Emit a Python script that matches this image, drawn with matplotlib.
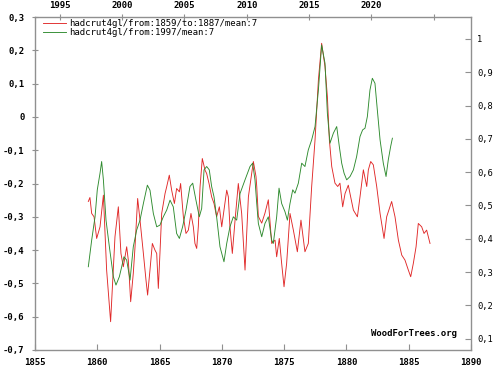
import matplotlib
matplotlib.use("Agg")
import matplotlib.pyplot as plt

# ---------------- data ----------------
# Red: hadcrut4gl from 1859 to 1887, 7-month mean (bottom / left axes)
red_years = [1859.28, 1859.41, 1859.55, 1859.74, 1859.95, 1860.22, 1860.49, 1860.75, 1861.07, 1861.42,
             1861.69, 1861.90, 1862.09, 1862.36, 1862.49, 1862.68, 1862.89, 1863.03, 1863.24, 1863.43,
             1863.70, 1863.91, 1864.04, 1864.23, 1864.42, 1864.63, 1864.77, 1864.90, 1865.03, 1865.17,
             1865.44, 1865.57, 1865.78, 1865.97, 1866.19, 1866.37, 1866.59, 1866.69, 1866.91, 1867.12,
             1867.31, 1867.52, 1867.71, 1867.84, 1867.98, 1868.11, 1868.25, 1868.43, 1868.65, 1868.78,
             1868.97, 1869.18, 1869.37, 1869.58, 1869.80, 1869.99, 1870.17, 1870.39, 1870.52, 1870.65,
             1870.84, 1871.06, 1871.32, 1871.59, 1871.86, 1872.13, 1872.53, 1872.74, 1872.80, 1872.93,
             1873.20, 1873.46, 1873.73, 1874.00, 1874.27, 1874.40, 1874.61, 1874.80, 1874.99, 1875.20,
             1875.47, 1875.74, 1876.06, 1876.35, 1876.67, 1876.94, 1877.21, 1877.48, 1877.75, 1878.01,
             1878.28, 1878.47, 1878.63, 1878.82, 1879.08, 1879.30, 1879.48, 1879.70, 1879.89, 1880.15,
             1880.34, 1880.56, 1880.88, 1881.09, 1881.36, 1881.63, 1881.76, 1881.95, 1882.16, 1882.43,
             1882.70, 1883.02, 1883.23, 1883.63, 1883.90, 1884.17, 1884.44, 1884.70, 1884.97, 1885.16,
             1885.37, 1885.59, 1885.77, 1886.04, 1886.23, 1886.44, 1886.71]
red_values = [-0.254, -0.242, -0.290, -0.300, -0.365, -0.330, -0.235, -0.460, -0.615, -0.360,
              -0.270, -0.410, -0.450, -0.390, -0.430, -0.555, -0.470, -0.390, -0.245, -0.310,
              -0.410, -0.490, -0.535, -0.460, -0.380, -0.400, -0.410, -0.515, -0.410, -0.290,
              -0.230, -0.210, -0.175, -0.220, -0.260, -0.215, -0.225, -0.200, -0.300, -0.350,
              -0.340, -0.290, -0.330, -0.380, -0.395, -0.330, -0.210, -0.125, -0.160, -0.170,
              -0.200, -0.240, -0.260, -0.300, -0.270, -0.330, -0.280, -0.220, -0.240, -0.330,
              -0.410, -0.310, -0.200, -0.290, -0.460, -0.240, -0.134, -0.179, -0.209, -0.299,
              -0.319, -0.289, -0.249, -0.380, -0.370, -0.420, -0.365, -0.440, -0.510, -0.440,
              -0.290, -0.340, -0.405, -0.310, -0.405, -0.380, -0.209, -0.069, 0.111, 0.221,
              0.151, 0.061, -0.069, -0.149, -0.199, -0.209, -0.199, -0.270, -0.230, -0.205,
              -0.240, -0.280, -0.300, -0.240, -0.159, -0.209, -0.159, -0.134, -0.144, -0.209,
              -0.290, -0.365, -0.300, -0.254, -0.300, -0.370, -0.415, -0.430, -0.460, -0.480,
              -0.440, -0.390, -0.320, -0.330, -0.350, -0.340, -0.380]

# Green: hadcrut4gl from 1997, 7-month mean (top / right axes)
green_years = [1997.28, 1997.55, 1997.82, 1998.00, 1998.22, 1998.35, 1998.49, 1998.70, 1998.97, 1999.29,
               1999.50, 1999.77, 1999.96, 2000.14, 2000.36, 2000.63, 2000.89, 2001.16, 2001.43, 2001.70,
               2002.02, 2002.23, 2002.50, 2002.77, 2003.03, 2003.30, 2003.57, 2003.84, 2004.10, 2004.37,
               2004.59, 2004.85, 2005.12, 2005.44, 2005.66, 2005.92, 2006.19, 2006.38, 2006.57, 2006.78,
               2006.99, 2007.18, 2007.37, 2007.58, 2007.85, 2008.17, 2008.39, 2008.65, 2008.92, 2009.19,
               2009.46, 2009.86, 2010.26, 2010.47, 2010.66, 2010.80, 2010.93, 2011.20, 2011.46, 2011.73,
               2012.00, 2012.13, 2012.40, 2012.59, 2012.80, 2013.07, 2013.26, 2013.47, 2013.69, 2013.87,
               2014.14, 2014.41, 2014.67, 2014.94, 2015.21, 2015.48, 2015.75, 2016.01, 2016.28, 2016.47,
               2016.68, 2016.95, 2017.22, 2017.43, 2017.62, 2017.81, 2018.02, 2018.29, 2018.56, 2018.82,
               2019.09, 2019.30, 2019.49, 2019.68, 2019.89, 2020.08, 2020.29, 2020.48, 2020.70, 2020.96,
               2021.18, 2021.36, 2021.55, 2021.69]
green_values = [0.316, 0.396, 0.466, 0.547, 0.597, 0.632, 0.577, 0.456, 0.376, 0.286,
                0.261, 0.286, 0.316, 0.346, 0.336, 0.276, 0.376, 0.426, 0.456, 0.506,
                0.561, 0.546, 0.476, 0.436, 0.441, 0.466, 0.486, 0.516, 0.496, 0.416,
                0.401, 0.436, 0.486, 0.557, 0.567, 0.516, 0.466, 0.491, 0.607, 0.617,
                0.607, 0.557, 0.526, 0.466, 0.376, 0.331, 0.386, 0.436, 0.466, 0.456,
                0.536, 0.577, 0.617, 0.627, 0.577, 0.506, 0.446, 0.406, 0.446, 0.466,
                0.396, 0.386, 0.466, 0.552, 0.506, 0.481, 0.456, 0.506, 0.547, 0.537,
                0.567, 0.627, 0.617, 0.667, 0.697, 0.737, 0.847, 0.982, 0.927, 0.777,
                0.687, 0.717, 0.737, 0.677, 0.627, 0.597, 0.577, 0.587, 0.607, 0.647,
                0.707, 0.727, 0.732, 0.767, 0.847, 0.882, 0.867, 0.787, 0.697, 0.627,
                0.587, 0.637, 0.677, 0.702]

red_label = "hadcrut4gl/from:1859/to:1887/mean:7"
green_label = "hadcrut4gl/from:1997/mean:7"

bottom_ticks = [1855, 1860, 1865, 1870, 1875, 1880, 1885, 1890]
bottom_labels = ["1855", "1860", "1865", "1870", "1875", "1880", "1885", "1890"]
top_ticks = [1995, 2000, 2005, 2010, 2015, 2020, 2025]
top_labels = ["1995", "2000", "2005", "2010", "2015", "2020", ""]
left_ticks = [0.3, 0.2, 0.1, 0.0, -0.1, -0.2, -0.3, -0.4, -0.5, -0.6, -0.7]
left_labels = ["0,3", "0,2", "0,1", "0", "-0,1", "-0,2", "-0,3", "-0,4", "-0,5", "-0,6", "-0,7"]
right_ticks = [1.0, 0.9, 0.8, 0.7, 0.6, 0.5, 0.4, 0.3, 0.2, 0.1]
right_labels = ["1", "0,9", "0,8", "0,7", "0,6", "0,5", "0,4", "0,3", "0,2", "0,1"]

# ---------------- styling ----------------
RED = "#e02828"
GREEN = "#2e8b2e"
SPINE = "#909090"
MONO = "DejaVu Sans Mono"
TFS = 6.5

fig = plt.figure(figsize=(4.96, 3.71), dpi=100)
fig.patch.set_facecolor("white")
pos = [35 / 496, 21 / 371, 436 / 496, 333 / 371]
ax = fig.add_axes(pos)
ax2 = fig.add_axes(pos, frameon=False)

l1, = ax.plot(red_years, red_values, color=RED, lw=0.65, label=red_label)
l2, = ax2.plot(green_years, green_values, color=GREEN, lw=0.65, label=green_label)

ax.set_xlim(1855, 1890)
ax.set_ylim(-0.7, 0.3)
ax2.set_xlim(1993, 2028)
ax2.set_ylim(0.066, 1.066)

for s in ax.spines.values():
    s.set_color(SPINE)
    s.set_linewidth(1.0)

ax.set_xticks(bottom_ticks)
ax.set_xticklabels(bottom_labels, family=MONO, fontweight="bold", fontsize=TFS)
ax.set_yticks(left_ticks)
ax.set_yticklabels(left_labels, family=MONO, fontweight="bold", fontsize=TFS)
ax.tick_params(axis="x", direction="in", length=4, color=SPINE, pad=6)
ax.tick_params(axis="y", direction="inout", length=5, color=SPINE, pad=5)

ax2.xaxis.tick_top()
ax2.yaxis.tick_right()
ax2.set_xticks(top_ticks)
ax2.set_xticklabels(top_labels, family=MONO, fontweight="bold", fontsize=TFS)
ax2.set_yticks(right_ticks)
ax2.set_yticklabels(right_labels, family=MONO, fontsize=6.3)
ax2.tick_params(axis="x", direction="inout", length=5, color=SPINE, pad=2.5)
ax2.tick_params(axis="y", direction="in", length=4, color=SPINE, pad=4.5)

leg = ax.legend(handles=[l1, l2], loc="upper left", bbox_to_anchor=(0.018, 0.995),
                frameon=False, prop={"family": MONO, "size": 6.5},
                handlelength=2.6, handletextpad=0.3, labelspacing=0.05, borderpad=0,
                borderaxespad=0)

ax.text(0.968, 0.051, "WoodForTrees.org", transform=ax.transAxes, ha="right", va="center",
        family=MONO, fontweight="bold", fontsize=6.5)

fig.savefig("out.png", dpi=100, facecolor="white")
